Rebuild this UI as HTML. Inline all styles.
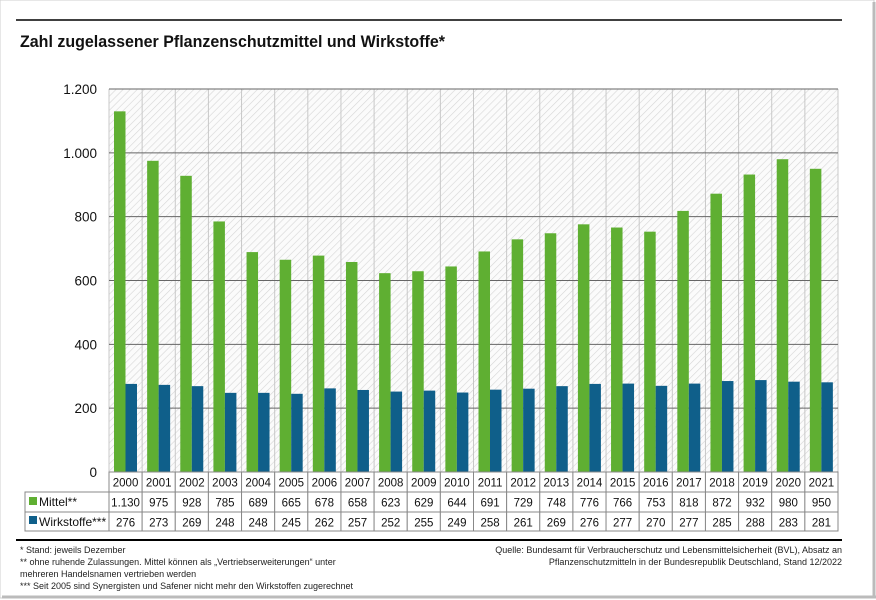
<!DOCTYPE html>
<html><head><meta charset="utf-8"><style>
body{margin:0;background:#fff;font-family:"Liberation Sans","DejaVu Sans",sans-serif;}
.wrap{position:relative;width:876px;height:600px;overflow:hidden;background:#fff}
</style></head><body><div class="wrap">
<svg width="876" height="600" xmlns="http://www.w3.org/2000/svg" font-family="Liberation Sans, DejaVu Sans, sans-serif">
<defs>
<pattern id="h" width="5" height="5" patternUnits="userSpaceOnUse" patternTransform="rotate(45)">
<rect width="5" height="5" fill="#fbfbfb"/><line x1="0" y1="0" x2="0" y2="5" stroke="#d6d6d6" stroke-width="1.2"/></pattern>
</defs>
<rect x="0" y="0" width="874" height="598" fill="#fff" stroke="#cfcfcf"/>
<line x1="874" y1="2" x2="874" y2="598" stroke="#bbb" stroke-width="3"/>
<line x1="2" y1="597" x2="876" y2="597" stroke="#bbb" stroke-width="3"/>
<line x1="16" y1="20" x2="842" y2="20" stroke="#000" stroke-width="1.5"/>
<text x="20" y="47" font-size="17" font-weight="bold" fill="#111" textLength="425" lengthAdjust="spacingAndGlyphs">Zahl zugelassener Pflanzenschutzmittel und Wirkstoffe*</text>
<rect x="109" y="89" width="729" height="383" fill="url(#h)"/>
<g id="grid"></g>
<g id="bars"></g>
<g id="tbl"></g>
<line x1="16" y1="540" x2="842" y2="540" stroke="#000" stroke-width="2"/>
<g font-size="9" fill="#222">
<text x="20" y="553">* Stand: jeweils Dezember</text>
<text x="20" y="565">** ohne ruhende Zulassungen. Mittel können als „Vertriebserweiterungen“ unter</text>
<text x="20" y="577">mehreren Handelsnamen vertrieben werden</text>
<text x="20" y="589">*** Seit 2005 sind Synergisten und Safener nicht mehr den Wirkstoffen zugerechnet</text>
<text x="842" y="553" text-anchor="end">Quelle: Bundesamt für Verbraucherschutz und Lebensmittelsicherheit (BVL), Absatz an</text>
<text x="842" y="565" text-anchor="end">Pflanzenschutzmitteln in der Bundesrepublik Deutschland, Stand 12/2022</text>
</g>
</svg>
<script>
const ns="http://www.w3.org/2000/svg";
const svg=document.querySelector('svg');
function el(t,a,p,txt){const e=document.createElementNS(ns,t);for(const k in a)e.setAttribute(k,a[k]);if(txt!==undefined)e.textContent=txt;(p||svg).appendChild(e);return e;}
const g=document.getElementById('grid'),b=document.getElementById('bars'),tb=document.getElementById('tbl');
const y0=472,sc=383/1200,x0=109,cw=729/22;
const M=[1130,975,928,785,689,665,678,658,623,629,644,691,729,748,776,766,753,818,872,932,980,950];
const W=[276,273,269,248,248,245,262,257,252,255,249,258,261,269,276,277,270,277,285,288,283,281];
const lab=["0","200","400","600","800","1.000","1.200"];
for(let i=0;i<=22;i++){const x=x0+i*cw;el('line',{x1:x,y1:89,x2:x,y2:472,stroke:'#c8c8c8'},g);}
for(let i=0;i<=6;i++){const y=y0-i*64*383/384;el('line',{x1:x0,y1:y,x2:838,y2:y,stroke:i==0?'#555':'#666','stroke-width':1},g);
el('text',{x:97,y:y+5,'font-size':13.5,'text-anchor':'end',fill:'#111'},g,lab[i]);}
for(let i=0;i<22;i++){const x=x0+i*cw;
el('rect',{x:x+5,y:y0-M[i]*sc,width:11.5,height:M[i]*sc,fill:'#5faf32'},b);
el('rect',{x:x+16.5,y:y0-W[i]*sc,width:11.5,height:W[i]*sc,fill:'#0f5f8a'},b);}
const rows=[472,492,512,531];
el('rect',{x:25,y:492,width:84,height:39,fill:'#fff',stroke:'#888'},tb);
for(let r=0;r<3;r++){const ry=rows[r];
 for(let i=0;i<22;i++){const x=x0+i*cw;el('rect',{x:x,y:ry,width:cw,height:rows[r+1]-ry,fill:'#fff',stroke:'#888'},tb);
  const v=r==0?String(2000+i):r==1?(M[i]>=1000?'1.130':String(M[i])):String(W[i]);
  el('text',{x:x+cw/2,y:ry+14.5,'font-size':11.5,'text-anchor':'middle',fill:'#111'},tb,v);}}
el('line',{x1:25,y1:512,x2:109,y2:512,stroke:'#888'},tb);
el('rect',{x:29,y:497,width:8,height:8,fill:'#5faf32'},tb);
el('text',{x:39,y:506,'font-size':12,fill:'#111'},tb,'Mittel**');
el('rect',{x:29,y:516,width:8,height:8,fill:'#0f5f8a'},tb);
el('text',{x:39,y:526,'font-size':12,fill:'#111'},tb,'Wirkstoffe***');
</script>
</div></body></html>
